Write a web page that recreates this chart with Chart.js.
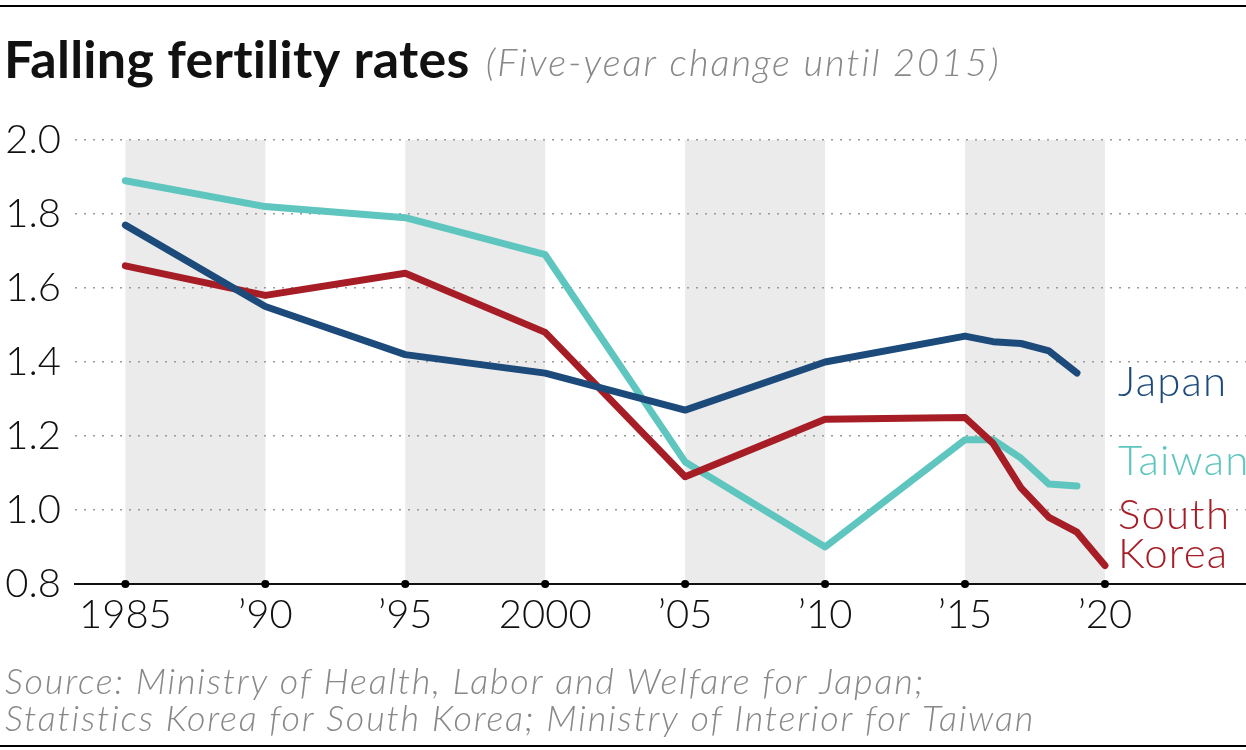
<!DOCTYPE html>
<html>
<head>
<meta charset="utf-8">
<script src="https://cdn.jsdelivr.net/npm/chart.js@4"></script>
<style>
  html, body { margin: 0; padding: 0; background: #fff; }
  #wrap { width: 1246px; height: 750px; position: relative; }
</style>
</head>
<body>
<div id="wrap"><canvas id="fertChart"></canvas></div>
<script>
// data
const years = [1985, 1990, 1995, 2000, 2005, 2010, 2015, 2016, 2017, 2018, 2019, 2020];
const japan = [1.77, 1.55, 1.42, 1.37, 1.27, 1.40, 1.47, 1.455, 1.45, 1.43, 1.37, null];
const taiwan = [1.89, 1.82, 1.79, 1.69, 1.13, 0.90, 1.19, 1.19, 1.14, 1.07, 1.065, null];
const korea = [1.66, 1.58, 1.64, 1.48, 1.09, 1.245, 1.25, 1.18, 1.06, 0.98, 0.94, 0.85];

const tickYears = [1985, 1990, 1995, 2000, 2005, 2010, 2015, 2020];
const tickLabels = ["1985", "\u201990", "\u201995", "2000", "\u201905", "\u201910", "\u201915", "\u201920"];
const yTicks = [0.8, 1.0, 1.2, 1.4, 1.6, 1.8, 2.0];
const bandStarts = [1985, 1995, 2005, 2015];

const NAVY = "#1c4a7b";
const TEAL = "#5ec6bf";
const RED = "#a61d26";

function pts(vals) {
  return years.map((y, i) => ({ x: y, y: vals[i] })).filter(p => p.y !== null);
}

// name labels on the right: [text, y value, colour]
const seriesLabels = [
  ["Japan", 1.345, NAVY],
  ["Taiwan", 1.13, TEAL],
  ["South", 0.985, RED],
  ["Korea", 0.88, RED],
];

const decor = {
  id: "decor",
  beforeDraw(chart) {
    const { ctx, chartArea: a, scales: { x, y } } = chart;
    ctx.save();
    ctx.fillStyle = "#fff";
    ctx.fillRect(0, 0, chart.width, chart.height);
    ctx.fillStyle = "#ebebeb";
    bandStarts.forEach(b => {
      const x0 = x.getPixelForValue(b), x1 = x.getPixelForValue(b + 5);
      ctx.fillRect(x0, y.getPixelForValue(2.0), x1 - x0, a.bottom - y.getPixelForValue(2.0));
    });
    ctx.restore();
  },
  afterDraw(chart) {
    const { ctx, chartArea: a, scales: { x, y } } = chart;
    ctx.save();
    // rules top and bottom
    ctx.fillStyle = "#000";
    ctx.fillRect(0, 5, chart.width, 2);
    ctx.fillRect(0, 745, chart.width, 2);

    // tick dots
    tickYears.forEach(t => {
      ctx.beginPath();
      ctx.arc(x.getPixelForValue(t), a.bottom, 4, 0, Math.PI * 2);
      ctx.fill();
    });

    // title
    ctx.textBaseline = "alphabetic";
    ctx.fillStyle = "#111";
    ctx.font = "bold 52px Lato";
    ctx.letterSpacing = "0.3px";
    const title = "Falling fertility rates";
    ctx.fillText(title, 4, 78);
    const tw = ctx.measureText(title).width;
    ctx.fillStyle = "#888";
    ctx.font = "italic 300 38px Lato";
    ctx.letterSpacing = "2px";
    ctx.fillText("(Five-year change until 2015)", 4 + tw + 16, 76);

    // source
    ctx.font = "italic 300 36px Lato";
    ctx.letterSpacing = "1.8px";
    ctx.fillText("Source: Ministry of Health, Labor and Welfare for Japan;", 5, 694);
    ctx.fillText("Statistics Korea for South Korea; Ministry of Interior for Taiwan", 5, 731);

    // series names
    ctx.font = "300 42px Lato";
    ctx.letterSpacing = "1.2px";
    ctx.textBaseline = "middle";
    const lx = x.getPixelForValue(2020) + 13;
    seriesLabels.forEach(([t, v, c]) => {
      ctx.fillStyle = c;
      ctx.fillText(t, lx, y.getPixelForValue(v));
    });
    ctx.restore();
  }
};

const lineStyle = { borderWidth: 7, pointRadius: 0, tension: 0, borderJoinStyle: "round", borderCapStyle: "round", fill: false };

new Chart(document.getElementById("fertChart"), {
  type: "line",
  data: {
    datasets: [
      { label: "Japan", data: pts(japan), borderColor: NAVY, ...lineStyle },
      { label: "South Korea", data: pts(korea), borderColor: RED, ...lineStyle },
      { label: "Taiwan", data: pts(taiwan), borderColor: TEAL, ...lineStyle },
    ],
  },
  options: {
    responsive: true,
    maintainAspectRatio: false,
    animation: false,
    layout: { padding: { top: 140, left: 0, right: 0, bottom: 0 } },
    plugins: {
      legend: { display: false },
      tooltip: { enabled: false },
    },
    scales: {
      x: {
        type: "linear",
        min: 1983.2,
        max: 2025.04,
        afterFit: s => { s.height = 166; },
        afterBuildTicks: s => { s.ticks = tickYears.map(v => ({ value: v })); },
        ticks: {
          autoSkip: false,
          maxRotation: 0,
          padding: 7,
          color: "#111",
          font: { family: "Lato", size: 40, weight: "300" },
          callback: (v) => tickLabels[tickYears.indexOf(v)],
        },
        grid: { display: false, drawTicks: false },
        border: { display: true, color: "#111", width: 2 },
      },
      y: {
        min: 0.8,
        max: 2.0,
        afterFit: s => { s.width = 75; },
        afterBuildTicks: s => { s.ticks = yTicks.map(v => ({ value: v })); },
        ticks: {
          padding: 14,
          color: "#111",
          font: { family: "Lato", size: 40, weight: "300" },
          callback: v => v.toFixed(1),
        },
        grid: { color: "#9a9a9a", lineWidth: 1.6, drawTicks: false },
        border: { display: false, dash: [2, 7] },
      },
    },
  },
  plugins: [decor],
});
</script>
</body>
</html>
